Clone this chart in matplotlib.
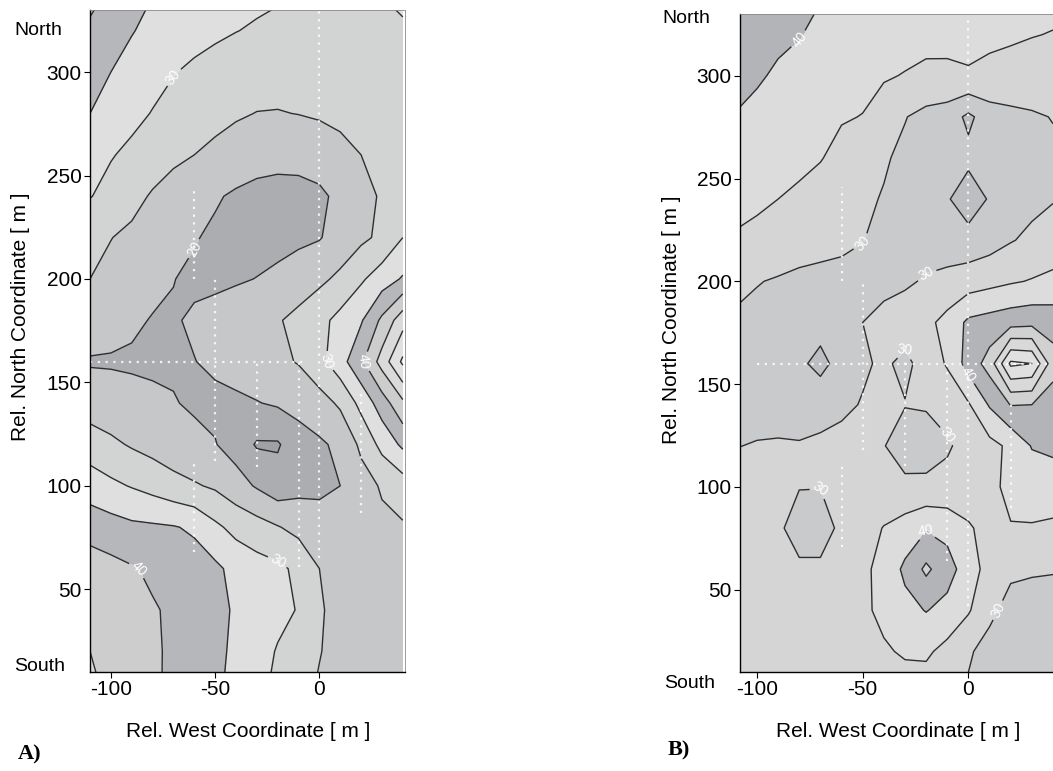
import numpy as np
import matplotlib
matplotlib.use('Agg')
import matplotlib.pyplot as plt

plt.rcParams['font.family'] = ['Liberation Sans', 'DejaVu Sans']
plt.rcParams['axes.unicode_minus'] = False

# grid of the survey maps (m)
west = [-110, -100, -90, -80, -70, -60, -50, -40, -30, -20, -10, 0, 10, 20, 30, 40]
north = [0, 20, 40, 60, 80, 100, 120, 140, 160, 180, 200, 220, 240, 260, 280, 300, 320, 340]

# map A, one row per north value (south -> north)
field_a = [
    [46.5, 43.8, 42.0, 40.8, 39.0, 37.3, 35.6, 34.0, 31.3, 28.8, 26.3, 24.5, 23.0, 22.5, 22.0, 22.0],
    [45.0, 43.0, 41.7, 40.7, 39.2, 37.5, 36.0, 34.2, 32.3, 29.6, 27.3, 25.2, 23.5, 22.8, 22.3, 22.3],
    [43.5, 42.2, 41.3, 40.4, 39.3, 38.0, 36.2, 34.5, 33.0, 31.5, 29.7, 25.5, 23.5, 22.7, 22.3, 22.3],
    [42.5, 41.5, 40.4, 39.2, 38.0, 37.0, 36.0, 33.5, 32.0, 31.0, 29.0, 25.0, 23.0, 22.5, 22.3, 22.3],
    [38.0, 37.0, 36.0, 35.7, 35.3, 34.3, 31.0, 28.5, 27.0, 25.3, 23.5, 22.0, 22.3, 23.0, 24.0, 24.5],
    [32.5, 31.0, 29.7, 28.3, 26.7, 25.5, 24.3, 22.0, 19.5, 17.0, 18.5, 19.0, 20.0, 23.0, 25.5, 27.5],
    [27.5, 26.0, 24.5, 23.3, 22.0, 21.0, 20.2, 18.0, 14.5, 14.5, 18.0, 19.3, 21.0, 26.0, 31.5, 36.0],
    [22.5, 21.8, 21.2, 20.7, 20.2, 19.5, 19.0, 19.2, 19.8, 20.6, 21.5, 23.0, 25.8, 31.5, 37.5, 44.0],
    [19.6, 19.6, 19.5, 19.4, 19.5, 19.9, 20.8, 21.8, 22.8, 24.0, 25.3, 28.5, 33.0, 39.0, 47.0, 56.0],
    [22.5, 21.5, 20.6, 19.8, 19.6, 20.6, 21.7, 22.6, 23.5, 24.6, 26.3, 28.5, 31.5, 34.5, 41.0, 48.0],
    [25.0, 23.8, 22.5, 21.0, 20.1, 19.2, 19.0, 19.5, 20.1, 21.0, 22.5, 24.0, 26.0, 29.3, 32.5, 35.5],
    [26.5, 25.1, 24.0, 22.8, 21.5, 20.3, 19.2, 18.5, 18.3, 18.5, 19.0, 19.7, 22.0, 24.0, 26.0, 30.0],
    [30.2, 28.5, 26.5, 24.5, 23.0, 21.5, 20.5, 19.3, 18.5, 18.3, 18.5, 19.2, 21.0, 23.5, 25.5, 27.0],
    [31.5, 30.3, 29.0, 27.5, 26.0, 25.0, 24.0, 23.0, 22.0, 21.5, 21.5, 22.0, 23.5, 25.0, 26.5, 27.5],
    [35.0, 33.0, 31.2, 29.8, 28.5, 27.3, 26.3, 25.5, 24.9, 24.8, 25.1, 25.6, 26.2, 27.0, 27.8, 28.5],
    [36.0, 35.0, 33.0, 31.5, 30.2, 29.2, 28.3, 27.5, 27.0, 26.8, 26.8, 27.0, 27.3, 27.8, 28.3, 28.8],
    [39.0, 37.0, 35.3, 33.5, 32.5, 31.5, 30.8, 30.1, 29.5, 29.0, 28.5, 28.3, 28.3, 28.5, 29.0, 29.5],
    [42.0, 39.5, 37.5, 35.3, 34.3, 33.5, 32.5, 31.8, 31.2, 30.7, 30.2, 29.8, 29.5, 29.7, 30.2, 31.0],
]

# map B
field_b = [
    [33.0, 33.0, 33.0, 32.8, 32.6, 32.5, 32.5, 32.8, 33.0, 32.5, 31.0, 29.5, 28.5, 28.0, 27.8, 27.8],
    [33.0, 33.0, 32.8, 32.6, 32.6, 32.8, 33.5, 34.5, 35.5, 35.8, 33.5, 30.5, 28.5, 28.0, 27.8, 27.8],
    [33.5, 33.3, 33.0, 32.8, 32.8, 33.2, 34.2, 36.0, 38.5, 40.2, 38.5, 35.5, 31.0, 28.5, 28.0, 28.0],
    [33.5, 33.0, 32.0, 31.0, 30.8, 32.0, 34.0, 36.5, 41.0, 46.0, 42.0, 37.5, 33.0, 30.8, 30.5, 30.3],
    [32.5, 32.0, 31.0, 27.5, 28.0, 31.0, 33.0, 35.2, 37.0, 39.5, 38.5, 35.5, 33.5, 34.8, 34.7, 34.2],
    [31.5, 31.0, 30.3, 30.2, 30.1, 30.6, 31.5, 31.8, 31.2, 31.0, 31.3, 32.5, 34.0, 36.0, 37.0, 37.5],
    [29.9, 30.2, 30.4, 30.3, 30.8, 31.5, 31.3, 30.2, 27.5, 28.0, 29.5, 31.5, 33.5, 36.0, 40.3, 41.0],
    [29.0, 28.7, 28.3, 28.0, 28.3, 29.0, 30.3, 31.2, 30.2, 30.4, 31.5, 34.5, 40.5, 45.2, 45.0, 42.5],
    [28.0, 27.5, 27.0, 26.0, 23.5, 27.0, 29.3, 30.8, 28.8, 32.0, 35.5, 42.0, 47.0, 61.0, 60.0, 47.0],
    [29.5, 28.8, 28.0, 27.5, 27.0, 27.5, 30.0, 31.5, 32.5, 33.8, 36.5, 41.0, 42.0, 43.0, 43.5, 43.0],
    [30.8, 30.2, 29.6, 29.0, 28.7, 28.8, 28.7, 28.6, 29.3, 30.5, 31.5, 32.5, 33.5, 34.5, 35.3, 36.0],
    [34.3, 33.5, 32.8, 32.0, 31.5, 30.8, 30.1, 29.0, 28.3, 27.8, 27.2, 27.0, 28.0, 29.7, 31.0, 32.5],
    [37.0, 36.0, 35.0, 34.3, 33.3, 32.0, 30.8, 29.7, 28.5, 27.5, 25.5, 22.0, 25.5, 27.8, 28.8, 29.7],
    [38.5, 37.7, 36.8, 35.9, 35.2, 33.8, 32.2, 30.5, 29.0, 28.0, 27.0, 26.3, 26.8, 27.5, 28.3, 29.0],
    [39.7, 38.7, 37.7, 36.7, 35.8, 35.3, 34.9, 33.0, 30.2, 28.5, 27.5, 24.0, 27.5, 28.5, 29.3, 30.2],
    [42.0, 40.6, 39.3, 38.5, 37.7, 36.9, 36.0, 35.4, 34.8, 34.3, 34.5, 34.8, 34.4, 34.2, 33.8, 33.3],
    [44.0, 42.5, 41.0, 40.2, 39.0, 38.3, 37.7, 37.2, 36.6, 36.0, 35.7, 35.6, 35.5, 35.3, 35.1, 34.9],
    [46.0, 44.5, 43.0, 41.5, 40.3, 39.5, 38.8, 38.3, 38.0, 37.8, 37.5, 37.3, 37.0, 36.6, 36.2, 35.8],
]

# survey profiles (x0, y0, x1, y1)
tracks_a = [(0, 65, 0, 330), (-60, 200, -60, 245), (-50, 112, -50, 201), (-60, 68, -60, 111),
            (-30, 109, -30, 160), (-10, 61, -10, 160), (20, 87, 20, 146), (-110, 160, -6, 160)]
tracks_b = [(0, 42, 0, 330), (-60, 200, -60, 246), (-50, 118, -50, 200), (-60, 71, -60, 110),
            (-30, 110, -30, 163), (-10, 64, -10, 160), (20, 90, 20, 142), (-100, 160, 38, 160)]

levels_a = [10, 15, 20, 25, 30, 35, 40, 45, 50, 55, 60, 65]
levels_b = [15, 20, 25, 30, 35, 40, 45, 50, 55, 60, 65]
labels_a = [20, 30, 40]
labels_b = [30, 40]

shades_a = ['#9fa1a6', '#abadb1', '#c6c7c9', '#d2d3d3', '#dfdfdf', '#b6b7ba',
            '#cdcdcd', '#dadada', '#e1e1e1', '#e6e6e6', '#ebebeb']
shades_b = ['#b3b5b8', '#bcbec1', '#c9cacc', '#d5d5d5', '#dcdcdc', '#b3b4b8',
            '#d1d1d1', '#d9d9d9', '#e0e0e0', '#e6e6e6']

fig = plt.figure(figsize=(10.53, 7.71), dpi=100)
ax_a = fig.add_axes([0.0855, 0.1284, 0.299, 0.8586])
ax_b = fig.add_axes([0.7028, 0.1284, 0.2972, 0.8534])

X, Y = np.meshgrid(west, north)


def draw_map(ax, field, levels, shades, lab, tracks, xlim):
    Z = np.array(field)
    ax.set_xlim(*xlim)
    ax.set_ylim(10, 330)
    ax.contourf(X, Y, Z, levels=levels, colors=shades)
    cs = ax.contour(X, Y, Z, levels=levels, colors='#2e2e2e', linewidths=1.0)
    ax.clabel(cs, levels=lab, fmt='%d', colors='white', fontsize=10, inline=True, inline_spacing=3)
    # drop labels that fall outside the visible map
    for t in list(cs.labelTexts):
        x, y = t.get_position()
        if not (xlim[0] + 4 <= x <= xlim[1] - 4 and 16 <= y <= 324):
            t.set_visible(False)
    for x0, y0, x1, y1 in tracks:
        ax.plot([x0, x1], [y0, y1], color='white', lw=1.6, ls=(0, (1, 2.5)), alpha=0.85)
    ax.set_xlim(*xlim)
    ax.set_ylim(10, 330)
    ax.set_xticks([-100, -50, 0])
    ax.set_yticks([50, 100, 150, 200, 250, 300])
    ax.tick_params(direction='out', length=4, labelsize=15, pad=2)
    for s in ['top', 'right']:
        ax.spines[s].set_color('#8a8a8a')
        ax.spines[s].set_linewidth(0.6)
    for s in ['left', 'bottom']:
        ax.spines[s].set_linewidth(1.0)


draw_map(ax_a, field_a, levels_a, shades_a, labels_a, tracks_a, (-110, 41))
draw_map(ax_b, field_b, levels_b, shades_b, labels_b, tracks_b, (-108, 40))

txt = dict(fontsize=14, ha='center', va='center')
fig.text(0.036, 0.961, 'North', **txt)
fig.text(0.038, 0.135, 'South', **txt)
fig.text(0.6515, 0.976, 'North', **txt)
fig.text(0.655, 0.114, 'South', **txt)

fig.text(0.019, 0.589, 'Rel. North Coordinate [ m ]', rotation=90, fontsize=15, ha='center', va='center')
fig.text(0.638, 0.585, 'Rel. North Coordinate [ m ]', rotation=90, fontsize=15, ha='center', va='center')
fig.text(0.2355, 0.0506, 'Rel. West Coordinate [ m ]', fontsize=15, ha='center', va='center')
fig.text(0.853, 0.0506, 'Rel. West Coordinate [ m ]', fontsize=15, ha='center', va='center')

fig.text(0.0285, 0.021, 'A)', family='Liberation Serif', fontsize=16, fontweight='bold', ha='center', va='center')
fig.text(0.645, 0.027, 'B)', family='Liberation Serif', fontsize=16, fontweight='bold', ha='center', va='center')

fig.savefig('out.png', dpi=100)
